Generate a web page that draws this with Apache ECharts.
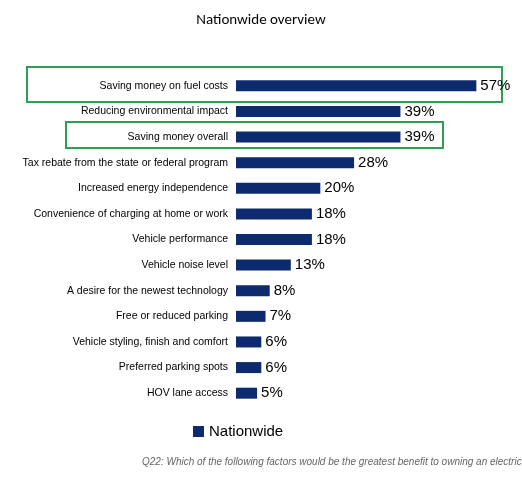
<!DOCTYPE html>
<html><head><meta charset="utf-8">
<script src="https://cdn.jsdelivr.net/npm/echarts@6/dist/echarts.min.js"></script>
<style>html,body{margin:0;padding:0;background:#fff}#c{width:522px;height:482px}</style>
</head><body><div id="c"></div>
<script>
const categories = ["Saving money on fuel costs","Reducing environmental impact","Saving money overall","Tax rebate from the state or federal program","Increased energy independence","Convenience of charging at home or work","Vehicle performance","Vehicle noise level","A desire for the newest technology","Free or reduced parking","Vehicle styling, finish and comfort","Preferred parking spots","HOV lane access"];
const values = [57,39,39,28,20,18,18,13,8,7,6,6,5];
const chart = echarts.init(document.getElementById('c'));
chart.setOption({
  animation:false,
  title:{text:"Nationwide overview",left:'center',top:8,textStyle:{fontFamily:'Calibri, Carlito, "Liberation Sans", sans-serif',fontWeight:'normal',fontSize:15,color:'#000'}},
  grid:{left:236,right:33,top:73,bottom:76},
  xAxis:{type:'value',min:0,max:60,show:false},
  yAxis:{type:'category',data:categories.slice().reverse(),axisLine:{show:false},axisTick:{show:false},
    axisLabel:{fontSize:10.5,color:'#000',fontFamily:'"Liberation Sans", sans-serif',margin:8}},
  legend:{data:['Nationwide'],left:188,top:419,icon:'rect',itemWidth:11,itemHeight:11,itemGap:4,textStyle:{fontSize:15,color:'#000',fontFamily:'"Liberation Sans", sans-serif'}},
  series:[{name:'Nationwide',type:'bar',data:values.slice().reverse(),barWidth:11,itemStyle:{color:'#0E2A6E'},
    label:{show:true,position:'right',formatter:'{c}%',fontSize:15,color:'#000',distance:4,fontFamily:'"Liberation Sans", sans-serif'}}],
  graphic:[
    {type:'rect',shape:{x:27,y:67,width:475,height:35},style:{fill:'none',stroke:'#2EA055',lineWidth:2}},
    {type:'rect',shape:{x:66,y:122,width:377,height:26},style:{fill:'none',stroke:'#2EA055',lineWidth:2}},
    {type:'text',left:142,top:457,style:{text:'Q22: Which of the following factors would be the greatest benefit to owning an electric vehicle?',fontSize:10,fontStyle:'italic',fill:'#666',fontFamily:'"Liberation Sans", sans-serif'}}
  ]
});
</script></body></html>
